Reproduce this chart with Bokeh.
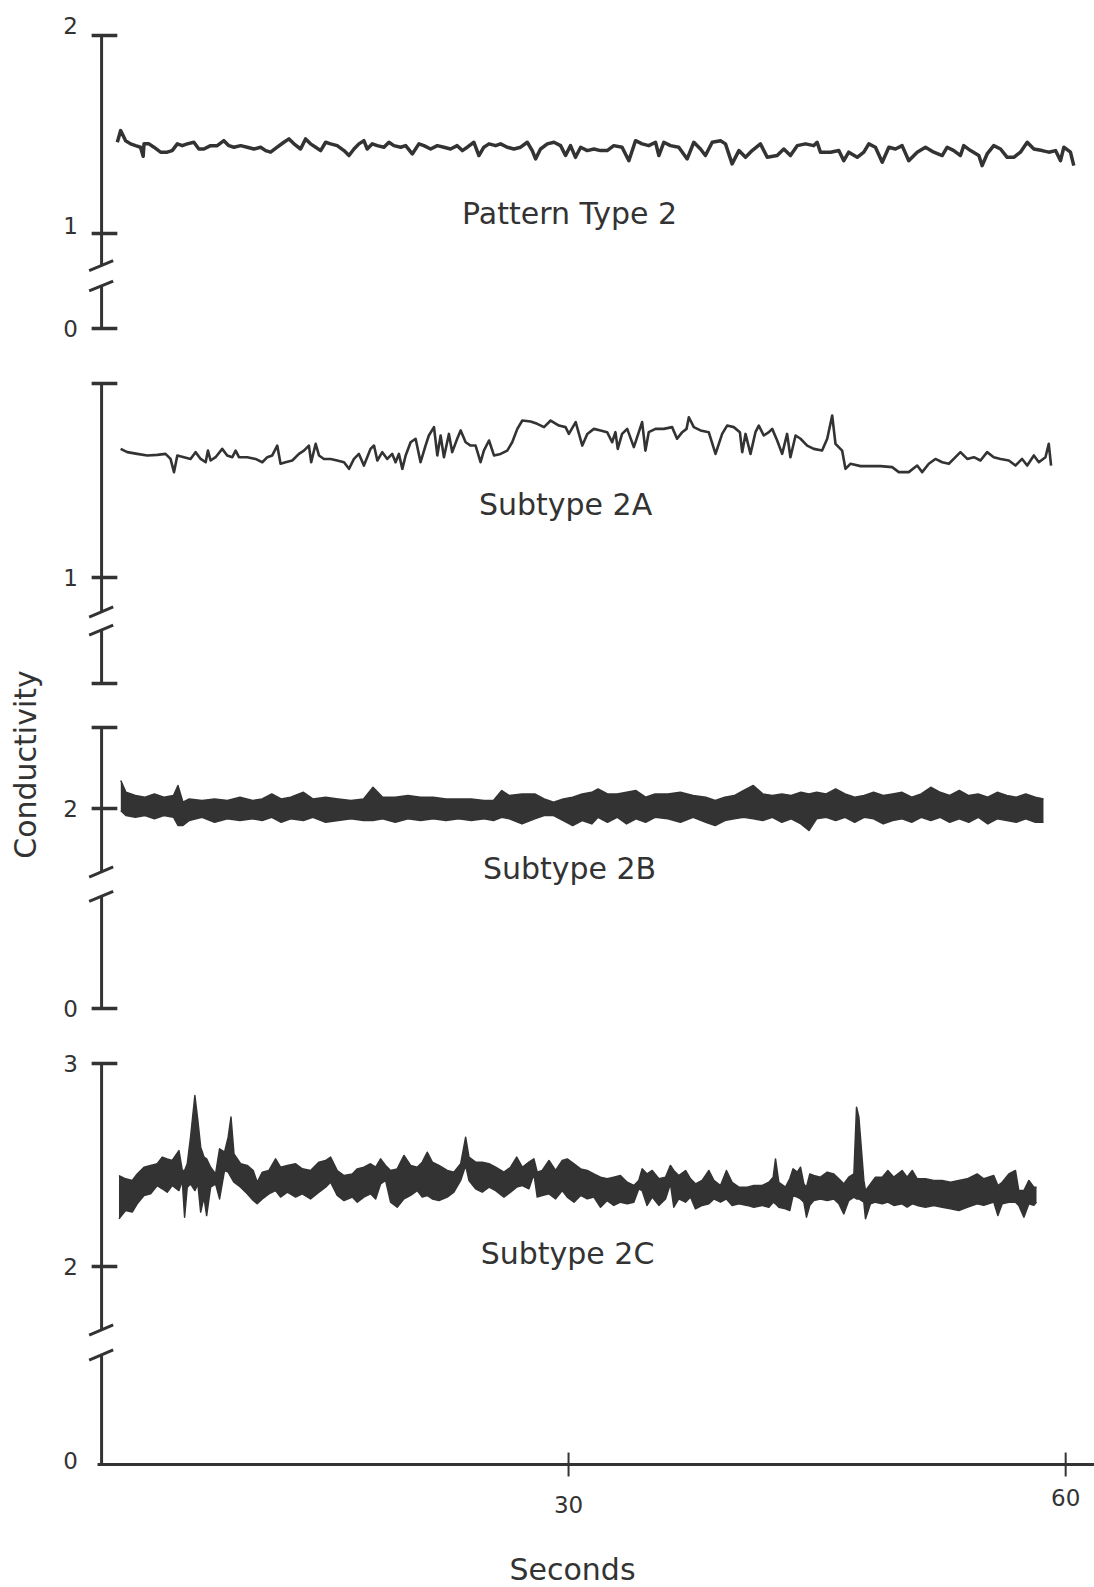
from bokeh.plotting import figure
from bokeh.models import Range1d
from bokeh.core.properties import value
from bokeh.embed import file_html
from bokeh.resources import INLINE
import math

INK = "#333333"
FONT = "DejaVu Sans"

# ---------------------------------------------------------------- data
x_ticks = [30, 60]
x_tick_labels = ["30", "60"]

# Pattern Type 2 : (seconds, conductivity)
type2 = [
    (2.77, 1.461), (2.97, 1.520), (3.27, 1.469), (3.57, 1.453), (3.87, 1.444), (4.17, 1.436), (4.33, 1.390), (4.38, 1.453),
    (4.68, 1.453), (4.98, 1.436), (5.38, 1.411), (5.78, 1.411), (6.08, 1.419), (6.39, 1.453), (6.69, 1.444), (6.99, 1.453),
    (7.39, 1.461), (7.69, 1.427), (7.99, 1.427), (8.40, 1.444), (8.80, 1.444), (9.20, 1.469), (9.50, 1.444), (9.81, 1.436),
    (10.21, 1.444), (10.61, 1.436), (11.01, 1.427), (11.42, 1.436), (11.72, 1.419), (12.02, 1.411), (12.42, 1.436), (12.82, 1.461),
    (13.13, 1.478), (13.43, 1.453), (13.83, 1.427), (14.13, 1.478), (14.43, 1.453), (14.74, 1.436), (15.04, 1.419), (15.34, 1.461),
    (15.64, 1.453), (16.04, 1.444), (16.45, 1.419), (16.75, 1.394), (17.05, 1.427), (17.35, 1.453), (17.65, 1.469), (17.85, 1.427),
    (18.16, 1.453), (18.46, 1.444), (18.86, 1.436), (19.16, 1.461), (19.46, 1.444), (19.87, 1.436), (20.17, 1.444), (20.57, 1.402),
    (20.97, 1.453), (21.27, 1.444), (21.68, 1.427), (22.08, 1.444), (22.48, 1.436), (22.88, 1.427), (23.28, 1.444), (23.59, 1.419),
    (23.89, 1.436), (24.29, 1.461), (24.59, 1.394), (24.89, 1.436), (25.20, 1.453), (25.60, 1.444), (25.90, 1.453), (26.30, 1.436),
    (26.70, 1.427), (27.11, 1.436), (27.51, 1.461), (27.81, 1.419), (28.01, 1.377), (28.31, 1.427), (28.72, 1.453), (29.12, 1.461),
    (29.52, 1.444), (29.82, 1.394), (30.12, 1.444), (30.42, 1.385), (30.73, 1.436), (31.13, 1.419), (31.53, 1.427), (31.93, 1.419),
    (32.33, 1.419), (32.73, 1.444), (33.23, 1.436), (33.64, 1.368), (34.04, 1.469), (34.44, 1.453), (34.84, 1.444), (35.25, 1.461),
    (35.45, 1.394), (35.75, 1.461), (36.15, 1.444), (36.65, 1.436), (37.16, 1.377), (37.56, 1.461), (37.96, 1.427), (38.26, 1.394),
    (38.67, 1.461), (39.17, 1.469), (39.47, 1.453), (39.87, 1.352), (40.28, 1.419), (40.68, 1.385), (41.08, 1.419), (41.58, 1.453),
    (41.99, 1.385), (42.59, 1.394), (42.99, 1.427), (43.39, 1.394), (43.80, 1.444), (44.30, 1.453), (44.80, 1.444), (45.00, 1.461),
    (45.20, 1.411), (45.81, 1.411), (46.31, 1.419), (46.61, 1.368), (46.91, 1.411), (47.42, 1.385), (47.82, 1.411), (48.12, 1.453),
    (48.52, 1.436), (48.93, 1.360), (49.33, 1.436), (49.73, 1.427), (50.13, 1.444), (50.53, 1.368), (51.04, 1.411), (51.54, 1.436),
    (52.04, 1.411), (52.55, 1.394), (52.85, 1.436), (53.25, 1.419), (53.65, 1.394), (53.85, 1.444), (54.26, 1.419), (54.76, 1.394),
    (54.96, 1.343), (55.26, 1.402), (55.66, 1.444), (56.07, 1.427), (56.47, 1.385), (56.87, 1.385), (57.27, 1.411), (57.68, 1.461),
    (58.08, 1.427), (58.58, 1.419), (58.98, 1.411), (59.39, 1.419), (59.69, 1.368), (59.89, 1.436), (60.29, 1.411), (60.49, 1.343),
]

# Subtype 2A : (seconds, conductivity)
sub2a = [
    (2.97, 1.663), (3.37, 1.646), (3.97, 1.637), (4.58, 1.629), (5.18, 1.632), (5.68, 1.637), (5.98, 1.611), (6.19, 1.543),
    (6.39, 1.629), (6.79, 1.620), (7.19, 1.611), (7.49, 1.646), (7.80, 1.611), (8.10, 1.594), (8.24, 1.654), (8.40, 1.603),
    (8.70, 1.620), (9.10, 1.663), (9.40, 1.629), (9.71, 1.620), (9.91, 1.654), (10.11, 1.620), (10.61, 1.620), (11.11, 1.611),
    (11.52, 1.594), (11.82, 1.620), (12.12, 1.629), (12.42, 1.680), (12.62, 1.586), (12.92, 1.594), (13.33, 1.603), (13.73, 1.637),
    (14.03, 1.654), (14.33, 1.680), (14.47, 1.594), (14.74, 1.689), (14.94, 1.629), (15.24, 1.611), (15.64, 1.611), (16.04, 1.603),
    (16.45, 1.594), (16.75, 1.560), (17.05, 1.611), (17.35, 1.637), (17.65, 1.577), (17.85, 1.620), (18.05, 1.663), (18.26, 1.680),
    (18.46, 1.603), (18.76, 1.646), (19.06, 1.611), (19.36, 1.637), (19.56, 1.594), (19.76, 1.637), (19.97, 1.560), (20.17, 1.629),
    (20.47, 1.697), (20.77, 1.715), (21.07, 1.594), (21.37, 1.680), (21.57, 1.732), (21.88, 1.775), (22.08, 1.629), (22.28, 1.732),
    (22.48, 1.620), (22.78, 1.740), (22.98, 1.646), (23.28, 1.715), (23.49, 1.758), (23.79, 1.697), (24.09, 1.680), (24.39, 1.680),
    (24.69, 1.594), (24.89, 1.654), (25.20, 1.706), (25.50, 1.629), (25.90, 1.637), (26.30, 1.654), (26.60, 1.697), (26.91, 1.766),
    (27.21, 1.809), (27.71, 1.804), (28.11, 1.792), (28.52, 1.775), (28.92, 1.809), (29.42, 1.783), (29.82, 1.775), (30.02, 1.740),
    (30.43, 1.801), (30.83, 1.680), (31.13, 1.740), (31.53, 1.766), (31.93, 1.758),
    (32.33, 1.749), (32.63, 1.697), (32.83, 1.749), (32.97, 1.663), (33.23, 1.740), (33.54, 1.766), (33.94, 1.672), (34.24, 1.749),
    (34.44, 1.801), (34.64, 1.654), (34.84, 1.749), (35.25, 1.766), (35.75, 1.766), (36.25, 1.775), (36.55, 1.715), (36.86, 1.749),
    (37.12, 1.766), (37.26, 1.826), (37.56, 1.775), (37.96, 1.758), (38.46, 1.749), (38.87, 1.637), (39.27, 1.740), (39.57, 1.783),
    (39.97, 1.775), (40.34, 1.749), (40.48, 1.646), (40.68, 1.740), (40.98, 1.637), (41.28, 1.749), (41.48, 1.783), (41.78, 1.732),
    (42.09, 1.749), (42.29, 1.766), (42.59, 1.706), (42.89, 1.637), (43.19, 1.740), (43.39, 1.620), (43.70, 1.732), (44.00, 1.715),
    (44.40, 1.680), (44.80, 1.663), (45.30, 1.654), (45.61, 1.715), (45.91, 1.835), (46.11, 1.689), (46.51, 1.654), (46.71, 1.560),
    (47.01, 1.586), (47.62, 1.574), (48.22, 1.574), (48.82, 1.574), (49.53, 1.569), (49.93, 1.543), (50.53, 1.543), (51.04, 1.577),
    (51.34, 1.543), (51.74, 1.586), (52.14, 1.611), (52.55, 1.594), (52.95, 1.586), (53.35, 1.620), (53.65, 1.646), (54.06, 1.611),
    (54.46, 1.620), (54.86, 1.603), (55.26, 1.646), (55.66, 1.620), (56.07, 1.611), (56.57, 1.603), (56.97, 1.577), (57.37, 1.611),
    (57.68, 1.577), (58.08, 1.629), (58.38, 1.594), (58.78, 1.620), (58.98, 1.689), (59.12, 1.577),
]

# Subtype 2B : (seconds, upper edge, lower edge) of the fast oscillation
sub2b = [
    (2.98, 2.173, 1.987), (3.29, 2.100, 1.957), (3.86, 2.080, 1.946), (4.44, 2.070, 1.957), (5.01, 2.090, 1.936),
    (5.58, 2.070, 1.957), (6.16, 2.080, 1.946), (6.43, 2.142, 1.895), (6.73, 2.039, 1.895), (7.11, 2.059, 1.926),
    (7.88, 2.049, 1.946), (8.64, 2.059, 1.915), (9.41, 2.049, 1.936), (10.17, 2.070, 1.926), (10.94, 2.049, 1.936),
    (11.51, 2.059, 1.926), (12.09, 2.090, 1.946), (12.66, 2.059, 1.915), (13.23, 2.070, 1.936), (14.00, 2.100, 1.926),
    (14.57, 2.059, 1.946), (15.34, 2.070, 1.915), (16.10, 2.059, 1.926), (16.87, 2.049, 1.936), (17.63, 2.059, 1.926),
    (18.20, 2.131, 1.926), (18.78, 2.070, 1.936), (19.54, 2.070, 1.915), (20.31, 2.080, 1.936), (21.07, 2.070, 1.926),
    (21.84, 2.070, 1.936), (22.60, 2.059, 1.926), (23.37, 2.059, 1.936), (24.13, 2.059, 1.926), (24.90, 2.049, 1.936),
    (25.47, 2.049, 1.926), (25.97, 2.111, 1.946), (26.43, 2.080, 1.936), (27.19, 2.090, 1.905), (27.96, 2.090, 1.936),
    (28.53, 2.059, 1.957), (29.10, 2.039, 1.957), (29.68, 2.059, 1.926), (30.25, 2.070, 1.895), (30.82, 2.090, 1.926),
    (31.40, 2.100, 1.905), (31.78, 2.121, 1.946), (32.35, 2.090, 1.915), (32.93, 2.090, 1.946), (33.50, 2.100, 1.905),
    (34.07, 2.111, 1.936), (34.65, 2.070, 1.915), (35.22, 2.090, 1.946), (35.99, 2.090, 1.936), (36.75, 2.100, 1.915),
    (37.52, 2.080, 1.946), (38.28, 2.070, 1.915), (38.85, 2.049, 1.895), (39.43, 2.070, 1.926), (40.00, 2.080, 1.936),
    (40.57, 2.111, 1.946), (41.15, 2.142, 1.936), (41.72, 2.090, 1.926), (42.30, 2.080, 1.946), (42.87, 2.090, 1.915),
    (43.44, 2.080, 1.936), (44.02, 2.100, 1.905), (44.51, 2.090, 1.864), (44.97, 2.100, 1.936), (45.55, 2.090, 1.946),
    (46.12, 2.121, 1.926), (46.69, 2.090, 1.946), (47.27, 2.070, 1.915), (47.84, 2.080, 1.946), (48.41, 2.100, 1.936),
    (48.99, 2.080, 1.905), (49.56, 2.090, 1.926), (50.13, 2.100, 1.936), (50.71, 2.070, 1.915), (51.28, 2.090, 1.946),
    (51.86, 2.131, 1.926), (52.43, 2.100, 1.946), (53.00, 2.080, 1.915), (53.58, 2.111, 1.936), (54.15, 2.080, 1.915),
    (54.72, 2.090, 1.946), (55.30, 2.070, 1.905), (55.87, 2.100, 1.936), (56.45, 2.080, 1.926), (57.02, 2.070, 1.915),
    (57.59, 2.090, 1.936), (58.17, 2.070, 1.915), (58.66, 2.059, 1.915),
]

# Subtype 2C : (seconds, upper edge, lower edge) of the fast oscillation
sub2c = [
    (2.87, 2.448, 2.235), (3.27, 2.432, 2.276), (3.67, 2.424, 2.268), (3.97, 2.456, 2.309), (4.38, 2.489, 2.350),
    (4.78, 2.498, 2.358), (5.18, 2.506, 2.399), (5.48, 2.539, 2.383), (5.78, 2.530, 2.366), (6.08, 2.522, 2.399),
    (6.49, 2.571, 2.374), (6.69, 2.473, 2.424), (6.83, 2.473, 2.243), (6.99, 2.506, 2.391), (7.19, 2.637, 2.407),
    (7.45, 2.842, 2.374), (7.63, 2.719, 2.407), (7.80, 2.588, 2.268), (8.00, 2.539, 2.342), (8.16, 2.530, 2.251),
    (8.40, 2.489, 2.391), (8.70, 2.456, 2.407), (8.94, 2.580, 2.333), (9.24, 2.563, 2.473), (9.46, 2.637, 2.465),
    (9.63, 2.736, 2.440), (9.81, 2.555, 2.415), (10.21, 2.506, 2.391), (10.61, 2.498, 2.358), (10.97, 2.473, 2.325),
    (11.21, 2.415, 2.309), (11.52, 2.465, 2.333), (11.92, 2.473, 2.358), (12.32, 2.530, 2.374), (12.62, 2.489, 2.342),
    (13.03, 2.498, 2.366), (13.53, 2.506, 2.342), (13.93, 2.481, 2.358), (14.43, 2.473, 2.333), (14.94, 2.514, 2.366),
    (15.34, 2.522, 2.391), (15.64, 2.539, 2.415), (16.04, 2.473, 2.350), (16.45, 2.448, 2.325), (16.95, 2.456, 2.342),
    (17.25, 2.481, 2.317), (17.65, 2.489, 2.342), (18.05, 2.506, 2.358), (18.36, 2.489, 2.333), (18.66, 2.530, 2.407),
    (18.96, 2.498, 2.424), (19.26, 2.473, 2.317), (19.66, 2.481, 2.292), (20.07, 2.547, 2.333), (20.47, 2.498, 2.350),
    (20.87, 2.489, 2.374), (21.17, 2.514, 2.342), (21.47, 2.563, 2.350), (21.78, 2.514, 2.333), (22.18, 2.498, 2.325),
    (22.68, 2.473, 2.342), (23.08, 2.465, 2.366), (23.49, 2.506, 2.424), (23.79, 2.637, 2.498), (23.99, 2.539, 2.424),
    (24.39, 2.514, 2.383), (24.79, 2.514, 2.366), (25.20, 2.506, 2.391), (25.60, 2.489, 2.374), (26.10, 2.465, 2.342),
    (26.50, 2.489, 2.366), (26.87, 2.539, 2.391), (27.21, 2.489, 2.399), (27.61, 2.514, 2.383), (27.91, 2.530, 2.456),
    (28.11, 2.465, 2.342), (28.41, 2.473, 2.350), (28.82, 2.522, 2.358), (29.22, 2.473, 2.333), (29.62, 2.522, 2.374),
    (29.92, 2.530, 2.342), (30.33, 2.506, 2.317), (30.73, 2.481, 2.350), (31.13, 2.473, 2.333), (31.53, 2.456, 2.342),
    (31.93, 2.440, 2.292), (32.33, 2.432, 2.325), (32.73, 2.440, 2.301), (33.13, 2.448, 2.317), (33.54, 2.415, 2.309),
    (33.94, 2.399, 2.317), (34.24, 2.424, 2.383), (34.44, 2.481, 2.374), (34.74, 2.456, 2.301), (35.05, 2.473, 2.342),
    (35.45, 2.432, 2.301), (35.85, 2.440, 2.333), (36.15, 2.498, 2.407), (36.35, 2.473, 2.292), (36.65, 2.448, 2.333),
    (37.06, 2.473, 2.317), (37.36, 2.432, 2.342), (37.66, 2.407, 2.284), (38.06, 2.424, 2.301), (38.47, 2.473, 2.309),
    (38.77, 2.424, 2.333), (39.17, 2.399, 2.317), (39.53, 2.473, 2.333), (39.87, 2.415, 2.301), (40.28, 2.391, 2.309),
    (40.78, 2.391, 2.301), (41.18, 2.399, 2.292), (41.68, 2.399, 2.301), (42.09, 2.415, 2.292), (42.35, 2.440, 2.317),
    (42.49, 2.530, 2.309), (42.69, 2.415, 2.292), (43.09, 2.391, 2.284), (43.35, 2.432, 2.276), (43.55, 2.481, 2.350),
    (43.80, 2.465, 2.342), (44.00, 2.489, 2.333), (44.20, 2.407, 2.317), (44.36, 2.391, 2.243), (44.56, 2.456, 2.301),
    (44.80, 2.448, 2.325), (45.20, 2.440, 2.333), (45.61, 2.465, 2.325), (46.01, 2.456, 2.333), (46.31, 2.432, 2.309),
    (46.61, 2.407, 2.259), (46.91, 2.440, 2.325), (47.22, 2.456, 2.342), (47.38, 2.785, 2.333), (47.52, 2.736, 2.333),
    (47.82, 2.424, 2.317), (47.92, 2.374, 2.235), (48.22, 2.407, 2.309), (48.52, 2.440, 2.317), (48.93, 2.440, 2.309),
    (49.27, 2.473, 2.317), (49.63, 2.440, 2.301), (50.13, 2.473, 2.309), (50.43, 2.440, 2.292), (50.74, 2.473, 2.309),
    (51.04, 2.432, 2.301), (51.54, 2.432, 2.292), (52.04, 2.424, 2.301), (52.55, 2.424, 2.292), (53.05, 2.415, 2.284),
    (53.55, 2.424, 2.276), (54.06, 2.432, 2.292), (54.66, 2.456, 2.309), (55.06, 2.432, 2.301), (55.66, 2.448, 2.317),
    (55.91, 2.399, 2.251), (56.17, 2.415, 2.309), (56.57, 2.456, 2.317), (56.97, 2.473, 2.317), (57.17, 2.374, 2.301),
    (57.48, 2.374, 2.243), (57.78, 2.424, 2.309), (58.08, 2.391, 2.301), (58.24, 2.391, 2.317),
]

panel_titles = ["Pattern Type 2", "Subtype 2A", "Subtype 2B", "Subtype 2C"]

# broken conductivity scales, one per trace
p1_axis = {"spans": [(2.0, 0.838), (0.735, 0.520)], "ticks": [2.0, 1.0, 0.520],
           "labels": [(2.0, "2"), (1.0, "1"), (0.520, "0")], "breaks": [0.838, 0.735]}
p2_axis = {"spans": [(2.0, 0.822), (0.729, 0.454)], "ticks": [2.0, 1.0, 0.454],
           "labels": [(1.0, "1")], "breaks": [0.822, 0.729]}
p3_axis = {"spans": [(2.5, 1.608), (1.457, 0.765)], "ticks": [2.5, 2.0, 0.765],
           "labels": [(2.0, "2"), (0.765, "0")], "breaks": [1.608, 1.457]}
p4_axis = {"spans": [(3.0, 1.687), (1.564, 1.0246)], "ticks": [3.0, 2.0],
           "labels": [(3.0, "3"), (2.0, "2"), (1.0246, "0")], "breaks": [1.687, 1.564]}
BASELINE = 1.0246  # the 2C scale's "0", where the time axis runs

# ---------------------------------------------------------------- figure
p = figure(frame_width=1094, frame_height=1587, title=None,
           x_range=Range1d(-4.28, 61.74), y_range=Range1d(0.4187, 8.2365),
           x_axis_location=None, y_axis_location=None,
           output_backend="svg", toolbar_location=None, min_border=0)
p.extra_y_ranges = {
    "p1": Range1d(-5.838, 2.177),
    "p2": Range1d(-4.206, 3.974),
    "p3": Range1d(-2.809, 6.988),
}
p.grid.visible = False
p.outline_line_color = None
p.background_fill_color = "white"
p.border_fill_color = "white"

AX = 1.82          # seconds position of the vertical scale line
LBL_X = -0.05      # seconds position of the scale numbers


def txt(x, y, s, size, rng="default", angle=0.0, dy=0):
    kw = {} if rng == "default" else {"y_range_name": rng}
    p.text(x=[x], y=[y], text=[s], angle=angle, y_offset=dy,
           text_align="center", text_baseline="middle",
           text_font=value(FONT), text_font_size=size, text_color=INK, **kw)


def draw_scale(spec, rng, slash_dv, label_dy=None):
    kw = {} if rng == "default" else {"y_range_name": rng}
    for top, bot in spec["spans"]:
        p.segment(x0=[AX], y0=[top], x1=[AX], y1=[bot], line_width=3, line_color=INK, **kw)
    for t in spec["ticks"]:
        p.segment(x0=[AX - 0.6], y0=[t], x1=[AX + 0.95], y1=[t], line_width=3.5, line_color=INK, **kw)
    for b in spec["breaks"]:
        p.segment(x0=[AX - 0.75], y0=[b - slash_dv], x1=[AX + 0.7], y1=[b + slash_dv],
                  line_width=3, line_color=INK, **kw)
    for i, (v, s) in enumerate(spec["labels"]):
        dy = 0 if label_dy is None else label_dy[i]
        txt(LBL_X, v, s, "23px", rng, dy=dy)


draw_scale(p1_axis, "p1", 0.025, label_dy=[-10, -8, 0])
draw_scale(p2_axis, "p2", 0.026)
draw_scale(p3_axis, "p3", 0.031)
draw_scale(p4_axis, "default", 0.025, label_dy=[0, 0, -4])

# time axis
p.segment(x0=[1.575], y0=[BASELINE], x1=[61.74], y1=[BASELINE], line_width=3, line_color=INK)
p.segment(x0=x_ticks, y0=[BASELINE - 0.059] * len(x_ticks), x1=x_ticks, y1=[BASELINE + 0.059] * len(x_ticks),
          line_width=2, line_color=INK)
for tk, s, dy in zip(x_ticks, x_tick_labels, [2, -5]):
    txt(tk, 0.837, s, "23px", dy=dy)
txt(30.24, 0.507, "Seconds", "30px")

# traces
t1, v1 = zip(*type2)
p.line(list(t1), list(v1), y_range_name="p1", line_width=3.5, line_color=INK, line_join="round")

t2, v2 = zip(*sub2a)
p.line(list(t2), list(v2), y_range_name="p2", line_width=2.6, line_color=INK, line_join="round")

for data, rng in ((sub2b, "p3"), (sub2c, "default")):
    tt, hi, lo = zip(*data)
    kw = {} if rng == "default" else {"y_range_name": rng}
    p.varea(x=list(tt), y1=list(lo), y2=list(hi), fill_color=INK, **kw)
    p.line(list(tt), list(hi), line_width=1.5, line_color=INK, line_join="round", **kw)
    p.line(list(tt), list(lo), line_width=1.5, line_color=INK, line_join="round", **kw)

# trace titles
title_specs = [(30.06, 1.101, "p1"), (29.82, 1.376, "p2"), (30.06, 1.630, "p3"), (29.94, 2.064, "default")]
for name, (tx, ty, rng) in zip(panel_titles, title_specs):
    txt(tx, ty, name, "30px", rng)

# shared vertical title
txt(-2.77, 4.473, "Conductivity", "30px", angle=math.pi / 2)

open("out.html", "w").write(file_html(p, INLINE))
